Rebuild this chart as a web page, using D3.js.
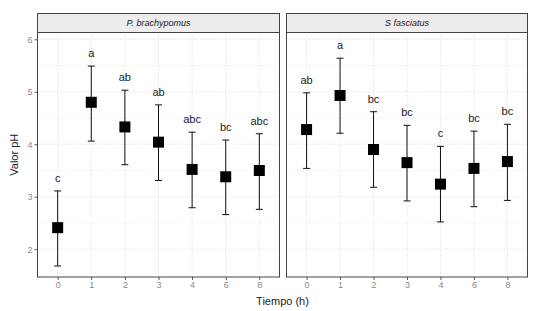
<!DOCTYPE html>
<html lang="es">
<head>
<meta charset="UTF-8">
<title>Valor pH por tiempo</title>
<script src="https://d3js.org/d3.v7.min.js"></script>
<style>
    body { margin: 0; background: #fff; font-family: Arial, "Liberation Sans", sans-serif; }
    .tick-lbl { font-size: 9px; fill: #8a8a8a; }
    .axis-title { font-size: 11px; fill: #222; }
    .strip-lbl { font-size: 9px; font-style: italic; fill: #1a1a1a; text-anchor: middle; }
    .grp-lbl { font-size: 11px; fill: #1a1a1a; text-anchor: middle; }
</style>
</head>
<body>
<svg width="550" height="311"></svg>
<script>
// categorias del eje x (tiempo en horas)
const tiempos = ["0", "1", "2", "3", "4", "6", "8"];
const especies = ["P. brachypomus", "S fasciatus"];
const yTicks = [2, 3, 4, 5, 6];

// P. brachypomus
const mediaPB = [2.41, 4.80, 4.33, 4.04, 3.52, 3.38, 3.50];
const supPB   = [3.11, 5.49, 5.03, 4.75, 4.23, 4.08, 4.20];
const infPB   = [1.68, 4.06, 3.61, 3.31, 2.79, 2.66, 2.76];
const letrasPB = ["c", "a", "ab", "ab", "abc", "bc", "abc"];

// S fasciatus
const mediaSF = [4.28, 4.93, 3.90, 3.65, 3.24, 3.54, 3.67];
const supSF   = [4.98, 5.64, 4.62, 4.36, 3.96, 4.25, 4.38];
const infSF   = [3.54, 4.21, 3.18, 2.92, 2.52, 2.81, 2.93];
const letrasSF = ["ab", "a", "bc", "bc", "c", "bc", "bc"];

const paneles = [
    { nombre: especies[0], media: mediaPB, sup: supPB, inf: infPB, letras: letrasPB, x0: 37.5, x1: 279.5 },
    { nombre: especies[1], media: mediaSF, sup: supSF, inf: infSF, letras: letrasSF, x0: 286.5, x1: 527.5 }
];

const svg = d3.select("svg");
const pTop = 32.5, pBottom = 277, stripTop = 13.5;

const y = d3.scaleLinear().domain([1.47, 6.13]).range([pBottom, pTop]);
const minorTicks = [2.5, 3.5, 4.5, 5.5];

paneles.forEach((p, pi) => {
    const x = d3.scalePoint().domain(tiempos).range([p.x0, p.x1]).padding(0.6);
    const g = svg.append("g");

    // grilla
    g.selectAll(".gy").data(yTicks.concat(minorTicks)).enter().append("line")
        .attr("x1", p.x0).attr("x2", p.x1)
        .attr("y1", d => y(d)).attr("y2", d => y(d))
        .attr("stroke", d => Number.isInteger(d) ? "#d6d6d6" : "#e6e6e6")
        .attr("stroke-width", 0.8).attr("stroke-dasharray", "1,1.5");
    g.selectAll(".gx").data(tiempos).enter().append("line")
        .attr("x1", d => x(d)).attr("x2", d => x(d))
        .attr("y1", pTop).attr("y2", pBottom)
        .attr("stroke", "#d6d6d6").attr("stroke-width", 0.8).attr("stroke-dasharray", "1,1.5");

    // barras de error
    const cap = 3.5;
    const datos = tiempos.map((t, i) => ({ t, m: p.media[i], s: p.sup[i], l: p.inf[i], lab: p.letras[i] }));
    g.selectAll(".eb").data(datos).enter().append("line")
        .attr("x1", d => x(d.t)).attr("x2", d => x(d.t))
        .attr("y1", d => y(d.s)).attr("y2", d => y(d.l))
        .attr("stroke", "#111").attr("stroke-width", 1);
    ["s", "l"].forEach(k => {
        g.selectAll(".cap" + k).data(datos).enter().append("line")
            .attr("x1", d => x(d.t) - cap).attr("x2", d => x(d.t) + cap)
            .attr("y1", d => y(d[k])).attr("y2", d => y(d[k]))
            .attr("stroke", "#111").attr("stroke-width", 1);
    });

    // puntos (cuadrados)
    const sz = 11;
    g.selectAll(".pt").data(datos).enter().append("rect")
        .attr("x", d => x(d.t) - sz / 2).attr("y", d => y(d.m) - sz / 2)
        .attr("width", sz).attr("height", sz).attr("fill", "#000");

    // letras
    g.selectAll(".lab").data(datos).enter().append("text")
        .attr("class", "grp-lbl")
        .attr("x", d => x(d.t)).attr("y", d => y(d.s) - 9)
        .text(d => d.lab);

    // borde panel
    g.append("rect").attr("x", p.x0).attr("y", pTop).attr("width", p.x1 - p.x0).attr("height", pBottom - pTop)
        .attr("fill", "none").attr("stroke", "#444").attr("stroke-width", 1);

    // strip
    g.append("rect").attr("x", p.x0).attr("y", stripTop).attr("width", p.x1 - p.x0).attr("height", pTop - stripTop)
        .attr("fill", "#ededed").attr("stroke", "#444").attr("stroke-width", 1);
    g.append("text").attr("class", "strip-lbl")
        .attr("x", (p.x0 + p.x1) / 2).attr("y", (stripTop + pTop) / 2 + 3)
        .text(p.nombre);

    // eje x
    const ax = g.append("g").attr("transform", `translate(0,${pBottom})`)
        .call(d3.axisBottom(x).tickSize(3).tickPadding(2));
    ax.select(".domain").remove();
    ax.selectAll("line").attr("stroke", "#555");
    ax.selectAll("text").attr("class", "tick-lbl").attr("font-family", null).attr("font-size", null).attr("fill", null);

    // eje y solo en el primer panel
    if (pi === 0) {
        const ay = g.append("g").attr("transform", `translate(${p.x0},0)`)
            .call(d3.axisLeft(y).tickValues(yTicks).tickFormat(d3.format("d")).tickSize(3).tickPadding(2));
        ay.select(".domain").remove();
        ay.selectAll("line").attr("stroke", "#555");
        ay.selectAll("text").attr("class", "tick-lbl").attr("font-family", null).attr("font-size", null).attr("fill", null);
    }
});

// titulos de ejes
svg.append("text").attr("class", "axis-title")
    .attr("text-anchor", "middle")
    .attr("x", (37.5 + 527.5) / 2).attr("y", 305)
    .text("Tiempo (h)");
svg.append("text").attr("class", "axis-title")
    .attr("text-anchor", "middle")
    .attr("transform", `translate(18,${(pTop + pBottom) / 2}) rotate(-90)`)
    .text("Valor pH");
</script>
</body>
</html>
